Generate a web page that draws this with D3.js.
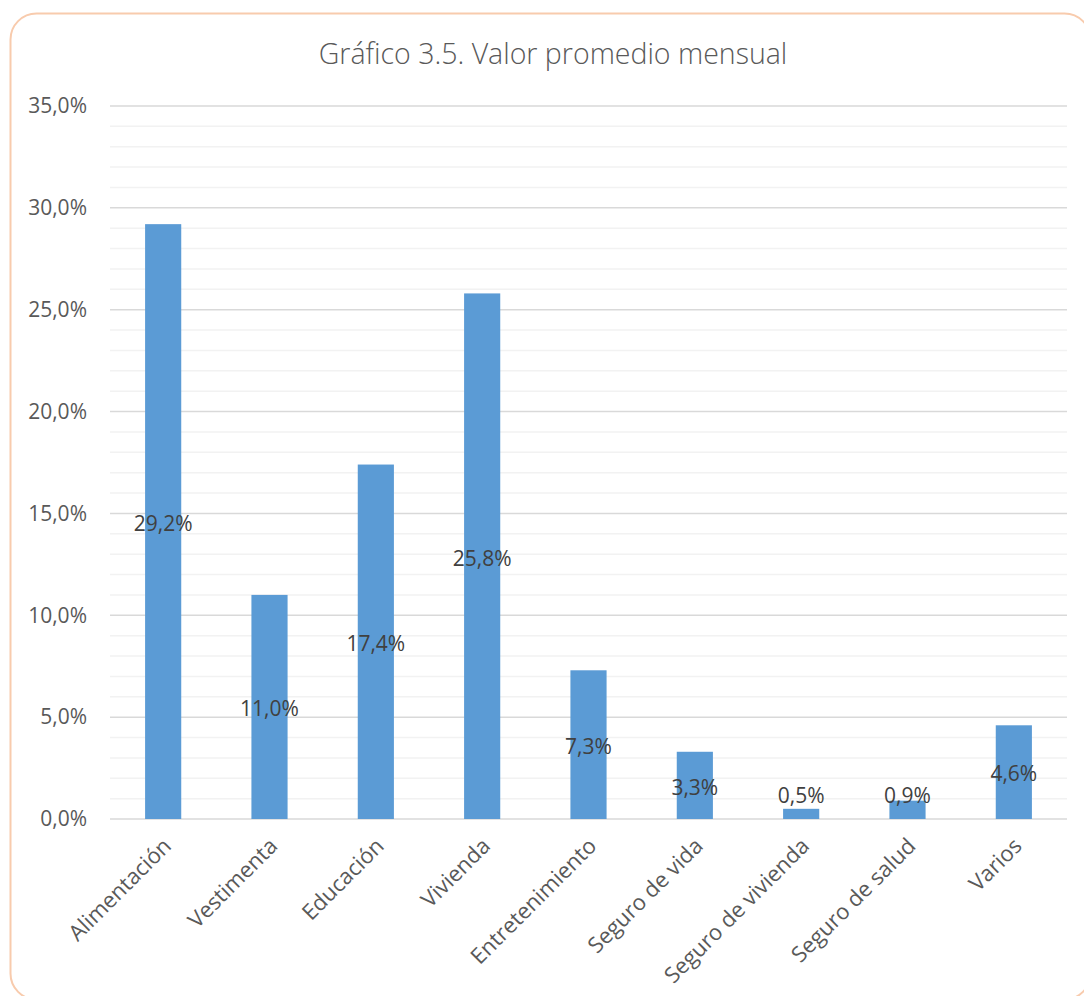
<!DOCTYPE html>
<html>
<head>
<meta charset="utf-8">
<script src="https://cdn.jsdelivr.net/npm/d3@7"></script>
<style>
  body { margin: 0; background: #fff; }
  text { font-family: "Open Sans", "Noto Sans", sans-serif; }
</style>
</head>
<body>
<div id="chart"></div>
<script>
var categories = ["Alimentación","Vestimenta","Educación","Vivienda","Entretenimiento","Seguro de vida","Seguro de vivienda","Seguro de salud","Varios"];
var values = [29.2, 11.0, 17.4, 25.8, 7.3, 3.3, 0.5, 0.9, 4.6];
var majorTicks = [0, 5, 10, 15, 20, 25, 30, 35];
var minorTicks = d3.range(0, 36, 1);
var title = "Gráfico 3.5. Valor promedio mensual";

var svg = d3.select("#chart")
            .append("svg")
            .attr("width", 1084)
            .attr("height", 996);

// card border
svg.append("rect")
   .attr("x", 10.5).attr("y", 13.5)
   .attr("width", 1080).attr("height", 986)
   .attr("rx", 26)
   .attr("fill", "#fff")
   .attr("stroke", "#f8cbad")
   .attr("stroke-width", 2);

svg.append("text")
   .attr("x", 553).attr("y", 64)
   .attr("text-anchor", "middle")
   .attr("font-size", 28.5)
   .attr("font-weight", 300)
   .attr("fill", "#595959")
   .text(title);

var x = d3.scaleBand()
          .domain(categories)
          .range([110, 1067])
          .paddingInner(0.66)
          .paddingOuter(0.33);

var y = d3.scaleLinear()
          .domain([0, 35])
          .range([819, 106]);

// minor gridlines
svg.append("g")
   .selectAll("line")
   .data(minorTicks.filter(function(d){ return d % 5 != 0; }))
   .enter()
   .append("line")
   .attr("x1", 110).attr("x2", 1067)
   .attr("y1", function(d){ return y(d); })
   .attr("y2", function(d){ return y(d); })
   .attr("stroke", "#f2f2f2")
   .attr("stroke-width", 1.5);

// major gridlines
svg.append("g")
   .selectAll("line")
   .data(majorTicks)
   .enter()
   .append("line")
   .attr("x1", 110).attr("x2", 1067)
   .attr("y1", function(d){ return y(d); })
   .attr("y2", function(d){ return y(d); })
   .attr("stroke", "#d9d9d9")
   .attr("stroke-width", 1.5);

// y axis labels
var yAxis = d3.axisLeft(y)
              .tickValues(majorTicks)
              .tickSize(0)
              .tickPadding(0)
              .tickFormat(function(d){ return d.toFixed(1).replace(".", ",") + "%"; });

var yg = svg.append("g")
   .attr("transform", "translate(87,0)")
   .call(yAxis);
yg.select(".domain").remove();
yg.selectAll("text")
  .attr("font-size", 21)
  .attr("fill", "#595959")
  .style("font-family", "'Open Sans', 'Noto Sans', sans-serif");

// bars
svg.append("g")
   .selectAll("rect")
   .data(values)
   .enter()
   .append("rect")
   .attr("x", function(d, i){ return x(categories[i]); })
   .attr("width", x.bandwidth())
   .attr("y", function(d){ return y(d); })
   .attr("height", function(d){ return y(0) - y(d); })
   .attr("fill", "#5b9bd5");

// data labels (centered in bar, kept above axis)
svg.append("g")
   .selectAll("text")
   .data(values)
   .enter()
   .append("text")
   .attr("x", function(d, i){ return x(categories[i]) + x.bandwidth() / 2; })
   .attr("y", function(d){
     var c = (y(d) + y(0)) / 2 + 2;
     return Math.min(c, y(0) - 23);
   })
   .attr("dy", "0.35em")
   .attr("text-anchor", "middle")
   .attr("font-size", 21)
   .attr("fill", "#404040")
   .text(function(d){ return d.toFixed(1).replace(".", ",") + "%"; });

// category labels
svg.append("g")
   .selectAll("text")
   .data(categories)
   .enter()
   .append("text")
   .attr("transform", function(d){
     return "translate(" + (x(d) + x.bandwidth() / 2 + 4) + ",842) rotate(-45)";
   })
   .attr("text-anchor", "end")
   .attr("dy", "0.35em")
   .attr("font-size", 22)
   .attr("fill", "#595959")
   .text(function(d){ return d; });
</script>
</body>
</html>
